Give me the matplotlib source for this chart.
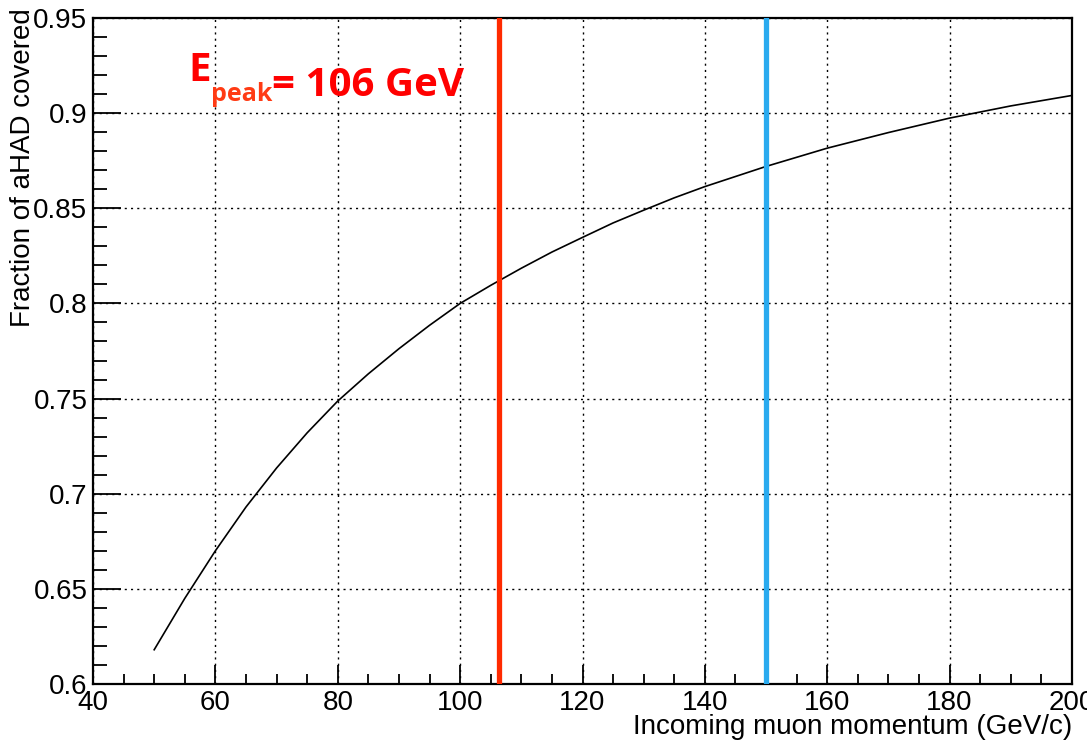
import numpy as np
import matplotlib.pyplot as plt
from matplotlib.ticker import MultipleLocator

# Courbe
momentum = [50, 55, 60, 65, 70, 75, 80, 85, 90, 95, 100, 105, 110, 115, 120, 125, 130, 135,
            140, 150, 160, 170, 180, 190, 200]
fraction = [0.618, 0.645, 0.670, 0.693, 0.7135, 0.732, 0.7487, 0.763, 0.7762, 0.7885,
            0.800, 0.8095, 0.8185, 0.827, 0.8347, 0.8423, 0.849, 0.8555, 0.8614, 0.872,
            0.8816, 0.8898, 0.8974, 0.9038, 0.9093]

# Lignes verticales
e_peak = 106.3
e_blue = 150

plt.rcParams['font.family'] = ['Liberation Sans', 'DejaVu Sans']

fig = plt.figure(figsize=(10.87, 7.45), dpi=100)
ax = fig.add_axes([93 / 1087, 1 - 684 / 745, 979 / 1087, 666 / 745])

ax.plot(momentum, fraction, color='black', lw=1.2, zorder=3)
ax.axvline(e_peak, color='#ff2a00', lw=3.8, zorder=4)
ax.axvline(e_blue, color='#29aaef', lw=3.8, zorder=4)

ax.set_xlim(40, 200)
ax.set_ylim(0.6, 0.95)
ax.xaxis.set_major_locator(MultipleLocator(20))
ax.xaxis.set_minor_locator(MultipleLocator(5))
ax.yaxis.set_minor_locator(MultipleLocator(0.01))
ax.set_yticks([0.6, 0.65, 0.7, 0.75, 0.8, 0.85, 0.9, 0.95])
ax.set_yticklabels(['0.6', '0.65', '0.7', '0.75', '0.8', '0.85', '0.9', '0.95'])

ax.grid(True, which='major', color='black', linestyle=(0, (1.5, 3)), lw=1.0)
ax.tick_params(which='both', direction='in', top=False, right=False, labelsize=20, width=1.3)
ax.tick_params(axis='x', which='major', length=14, pad=4)
ax.tick_params(axis='x', which='minor', length=7)
ax.tick_params(axis='y', which='major', length=20, pad=4)
ax.tick_params(axis='y', which='minor', length=10)
for s in ax.spines.values():
    s.set_linewidth(1.6)

ax.set_xlabel('Incoming muon momentum (GeV/c)', fontsize=20, loc='right')
ax.xaxis.set_label_coords(1.0, -0.045)
ax.set_ylabel('Fraction of aHAD covered', fontsize=20, loc='top')
ax.yaxis.set_label_coords(-0.058, 1.015)

# Texte E_peak
t1 = ax.text((188 - 93) / 979, 1 - (81 - 18) / 666, 'E', color='#ff0000',
             fontsize=29, fontweight='bold', family='Open Sans', transform=ax.transAxes,
             va='baseline', ha='left')
t2 = ax.annotate('peak', xy=(1, 0), xycoords=t1, xytext=(0, -8), textcoords='offset points',
                 color='#ff3b14', fontsize=18, fontweight='bold', family='Open Sans',
                 va='baseline', ha='left')
ax.annotate('= 106 GeV', xy=(1, 0), xycoords=t2, xytext=(0, 8), textcoords='offset points',
            color='#ff0000', fontsize=29, fontweight='bold', family='Open Sans',
            va='baseline', ha='left')

fig.savefig('out.png', dpi=100)
